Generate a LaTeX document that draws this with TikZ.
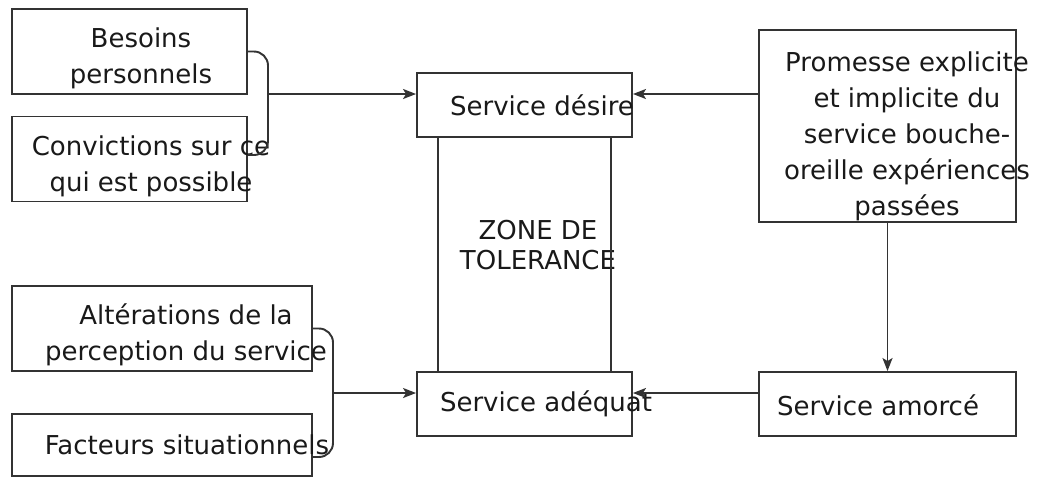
\documentclass[tikz,border=0pt]{standalone}
\usepackage{fontspec}
\setmainfont{DejaVu Sans}
\usetikzlibrary{arrows.meta}
\begin{document}
\begin{tikzpicture}[x=0.02cm,y=-0.02cm,
  box/.style={draw=black!80,line width=1.1pt,inner sep=0pt},
  txt/.style={align=center,text=black!90,inner sep=0pt,font=\fontsize{14.8}{20.5}\selectfont},
  wire/.style={draw=black!80,line width=1.1pt},
  edge/.style={wire,->,>={Stealth[length=0.26cm,width=0.2cm,inset=0.06cm]}}]
\useasboundingbox (0,0) rectangle (1038,478);
% left inputs, top
\node[box,minimum width=4.7cm,minimum height=1.7cm] (besoins) at (129.5,51.5) {};
\node[txt] (besoinsT) at (141,58.5) {Besoins\\personnels};
\node[box,minimum width=4.7cm,minimum height=1.7cm] (convic) at (129.5,159) {};
\node[txt] (convicT) at (151,166) {Convictions sur ce\\qui est possible};
% left inputs, bottom
\node[box,minimum width=6cm,minimum height=1.7cm] (alter) at (162,328.5) {};
\node[txt] (alterT) at (186,335) {Altérations de la\\perception du service};
\node[box,minimum width=6cm,minimum height=1.24cm] (facteurs) at (162,445) {};
\node[txt] (facteursT) at (187,445) {Facteurs situationnels};
% the two service levels
\node[box,minimum width=4.3cm,minimum height=1.28cm] (desire) at (524.5,105) {};
\node[txt] (desireT) at (542,105) {Service désire};
\node[box,minimum width=4.3cm,minimum height=1.28cm] (adequat) at (524.5,404) {};
\node[txt] (adequatT) at (546,404) {Service adéquat};
\node[txt,font=\fontsize{14.8}{17.3}\selectfont] (zone) at (538,245) {ZONE DE\\TOLERANCE};
% right side
\node[box,minimum width=5.14cm,minimum height=3.84cm] (promesse) at (887.5,126) {};
\node[txt] (promesseT) at (907,136) {Promesse explicite\\et implicite du\\service bouche-\\oreille expériences\\passées};
\node[box,minimum width=5.14cm,minimum height=1.28cm] (amorce) at (887.5,404) {};
\node[txt] (amorceT) at (878,405) {Service amorcé};
% zone walls
\draw[wire] ([xshift=0.44cm]desire.south west) -- ([xshift=0.44cm]adequat.north west);
\draw[wire] ([xshift=-0.44cm]desire.south east) -- ([xshift=-0.44cm]adequat.north east);
% brackets joining the inputs
\coordinate (j1) at (268,94);
\coordinate (j2) at (333,393);
\draw[wire,rounded corners=8pt] (besoins.east) -| (j1) |- ([yshift=0.08cm]convic.east);
\draw[wire,rounded corners=8pt] (alter.east) -| (j2) |- ([yshift=-0.24cm]facteurs.east);
\draw[edge] (j1) -- (desire.west |- j1);
\draw[edge] (j2) -- (adequat.west |- j2);
\draw[edge] (promesse.west |- j1) -- (desire.east |- j1);
\draw[edge] (promesse.south) -- (amorce.north);
\draw[edge] (amorce.west |- j2) -- (adequat.east |- j2);
\end{tikzpicture}
\end{document}
